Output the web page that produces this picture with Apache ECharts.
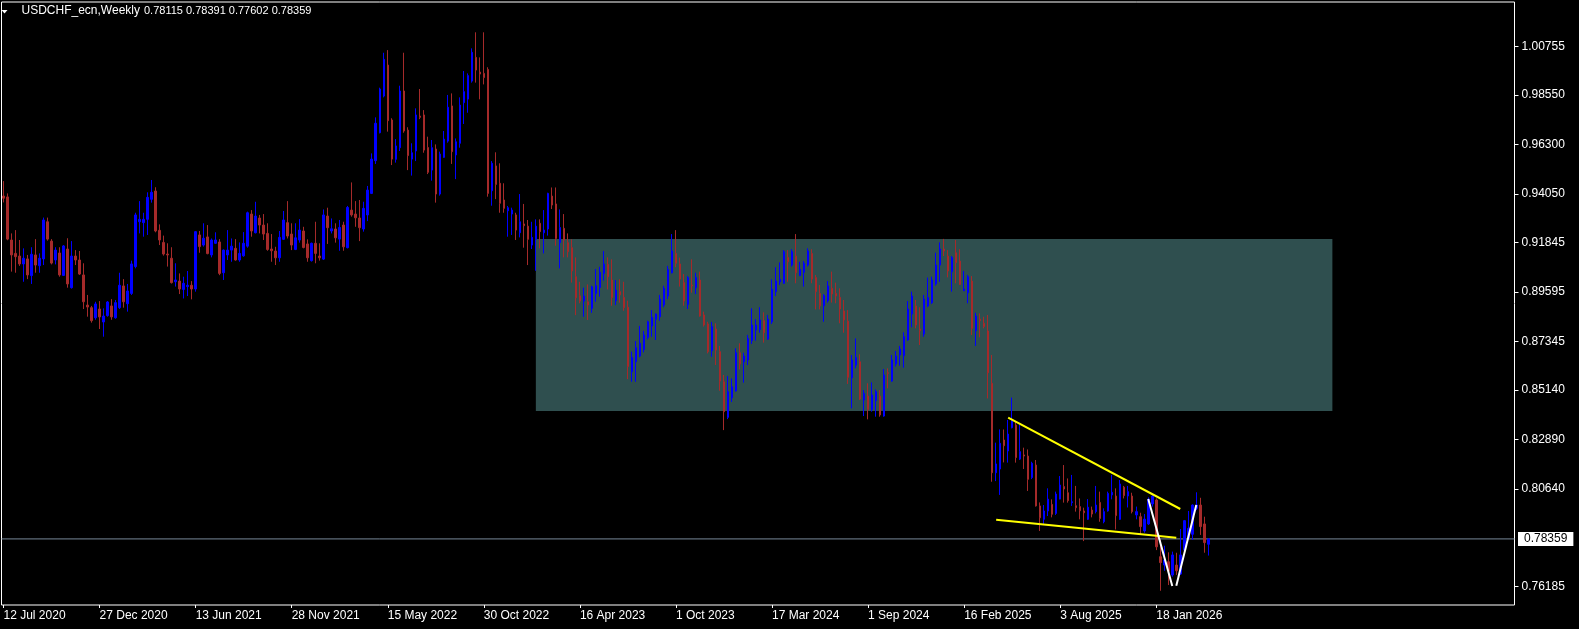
<!DOCTYPE html>
<html>
<head>
<meta charset="utf-8">
<script src="https://cdn.jsdelivr.net/npm/echarts@6/dist/echarts.min.js"></script>
<style>
html,body{margin:0;padding:0;background:#000;}
#chart{width:1579px;height:629px;}
</style>
</head>
<body>
<div id="chart"></div>
<script>
// ---- DATA (weekly bars: [open, high, low, close]) ----
const symbolName = 'USDCHF_ecn';
const periodName = 'Weekly';

const bars2020 = [
[0.9396,0.9464,0.9367,0.9386],[0.9392,0.9408,0.9195,0.9200],[0.9196,0.9226,0.9052,0.9128],[0.9135,0.9241,0.9047,0.9120],
[0.9123,0.9196,0.9078,0.9087],[0.9087,0.9158,0.9006,0.9113],[0.9110,0.9128,0.9018,0.9037],[0.9034,0.9163,0.8996,0.9131],
[0.9128,0.9200,0.9047,0.9082],[0.9079,0.9135,0.9047,0.9113],[0.9110,0.9298,0.9082,0.9287],[0.9279,0.9298,0.9193,0.9200],
[0.9191,0.9200,0.9085,0.9091],[0.9105,0.9163,0.9085,0.9150],[0.9137,0.9163,0.9029,0.9037],[0.9035,0.9173,0.9032,0.9169],
[0.9155,0.9204,0.8979,0.8996],[0.8979,0.9191,0.8975,0.9123],[0.9123,0.9150,0.9082,0.9105],[0.9105,0.9146,0.9037,0.9041],
[0.9037,0.9090,0.8882,0.8915],[0.8900,0.8946,0.8847,0.8891],[0.8888,0.8896,0.8820,0.8829],[0.8842,0.8915,0.8833,0.8905],
[0.8882,0.8918,0.8791,0.8846]
];
const bars2021 = [
[0.8823,0.8885,0.8756,0.8850],[0.8852,0.8918,0.8847,0.8914],[0.8896,0.8927,0.8833,0.8846],[0.8842,0.8923,0.8838,0.8911],
[0.8888,0.9047,0.8882,0.8990],[0.8987,0.9018,0.8888,0.8915],[0.8906,0.8996,0.8870,0.8964],[0.8953,0.9102,0.8946,0.9087],
[0.9075,0.9320,0.9067,0.9310],[0.9279,0.9373,0.9226,0.9290],[0.9275,0.9320,0.9211,0.9290],[0.9290,0.9413,0.9219,0.9390],
[0.9381,0.9469,0.9366,0.9413],[0.9419,0.9436,0.9231,0.9237],[0.9240,0.9267,0.9173,0.9196],[0.9185,0.9216,0.9125,0.9132],
[0.9132,0.9181,0.9075,0.9128],[0.9113,0.9163,0.8998,0.9002],[0.9006,0.9090,0.8984,0.9014],[0.9009,0.9044,0.8950,0.8973],
[0.8971,0.9029,0.8930,0.8999],[0.8984,0.9055,0.8941,0.8990],[0.8990,0.9009,0.8926,0.8973],[0.8973,0.9237,0.8961,0.9234],
[0.9219,0.9237,0.9138,0.9166],[0.9173,0.9272,0.9166,0.9204],[0.9210,0.9264,0.9131,0.9134],[0.9128,0.9203,0.9117,0.9196],
[0.9181,0.9231,0.9178,0.9196],[0.9187,0.9200,0.9036,0.9044],[0.9047,0.9153,0.9014,0.9150],[0.9128,0.9241,0.9105,0.9150],
[0.9150,0.9203,0.9097,0.9168],[0.9158,0.9200,0.9102,0.9105],[0.9105,0.9185,0.9097,0.9135],[0.9124,0.9232,0.9120,0.9181],
[0.9168,0.9325,0.9161,0.9320],[0.9314,0.9332,0.9211,0.9237],[0.9229,0.9370,0.9226,0.9305],[0.9296,0.9310,0.9226,0.9264],
[0.9264,0.9314,0.9196,0.9223],[0.9226,0.9272,0.9147,0.9153],[0.9155,0.9223,0.9097,0.9147],[0.9146,0.9165,0.9082,0.9115],
[0.9115,0.9237,0.9097,0.9208],[0.9199,0.9328,0.9196,0.9287],[0.9275,0.9373,0.9203,0.9214],[0.9223,0.9272,0.9150,0.9173],
[0.9153,0.9272,0.9150,0.9206],[0.9196,0.9291,0.9184,0.9241],[0.9237,0.9256,0.9158,0.9162],[0.9178,0.9199,0.9097,0.9115]
];
const bars2022 = [
[0.9102,0.9184,0.9098,0.9181],[0.9181,0.9279,0.9090,0.9135],[0.9123,0.9181,0.9102,0.9115],[0.9109,0.9335,0.9105,0.9310],
[0.9305,0.9343,0.9178,0.9252],[0.9237,0.9294,0.9226,0.9247],[0.9246,0.9272,0.9184,0.9206],[0.9200,0.9287,0.9147,0.9253],
[0.9264,0.9279,0.9147,0.9165],[0.9161,0.9351,0.9158,0.9344],[0.9332,0.9458,0.9302,0.9310],[0.9314,0.9373,0.9256,0.9297],
[0.9296,0.9378,0.9191,0.9252],[0.9246,0.9370,0.9234,0.9340],[0.9310,0.9442,0.9282,0.9423],[0.9408,0.9590,0.9405,0.9564],
[0.9557,0.9754,0.9542,0.9727],[0.9684,0.9889,0.9681,0.9883],[0.9851,1.0048,0.9845,1.0018],[0.9992,1.0060,0.9689,0.9739],
[0.9742,0.9750,0.9537,0.9564],[0.9563,0.9655,0.9548,0.9624],[0.9616,0.9898,0.9601,0.9874],[0.9874,1.0048,0.9684,0.9692],
[0.9696,0.9709,0.9514,0.9580],[0.9564,0.9636,0.9489,0.9593],[0.9601,0.9795,0.9555,0.9765],[0.9760,0.9883,0.9746,0.9754],
[0.9765,0.9787,0.9593,0.9605],[0.9617,0.9666,0.9496,0.9504],[0.9514,0.9651,0.9466,0.9616],[0.9610,0.9631,0.9366,0.9405],
[0.9405,0.9598,0.9398,0.9587],[0.9572,0.9692,0.9570,0.9655],[0.9646,0.9856,0.9639,0.9800],[0.9806,0.9863,0.9542,0.9598],
[0.9583,0.9658,0.9473,0.9643],[0.9636,0.9845,0.9616,0.9810],[0.9821,0.9965,0.9724,0.9871],[0.9837,0.9954,0.9775,0.9944],
[0.9919,1.0068,0.9912,1.0050],[1.0027,1.0141,0.9912,0.9969],[0.9960,1.0027,0.9836,0.9951],[0.9954,1.0141,0.9904,0.9935],
[0.9972,0.9982,0.9393,0.9408],[0.9420,0.9555,0.9352,0.9545],[0.9533,0.9595,0.9382,0.9449],[0.9454,0.9545,0.9320,0.9363],
[0.9378,0.9454,0.9320,0.9340],[0.9329,0.9351,0.9211,0.9343],[0.9314,0.9343,0.9219,0.9332],[0.9310,0.9320,0.9196,0.9241]
];
const bars2023 = [
[0.9229,0.9405,0.9208,0.9279],[0.9269,0.9360,0.9161,0.9261],[0.9259,0.9287,0.9082,0.9199],[0.9173,0.9279,0.9155,0.9208],
[0.9199,0.9290,0.9056,0.9259],[0.9272,0.9290,0.9158,0.9234],[0.9229,0.9332,0.9135,0.9241],[0.9246,0.9411,0.9216,0.9408],
[0.9396,0.9435,0.9337,0.9355],[0.9360,0.9435,0.9170,0.9203],[0.9184,0.9335,0.9067,0.9253],[0.9249,0.9314,0.9117,0.9196],
[0.9184,0.9226,0.9117,0.9143],[0.9161,0.9199,0.9002,0.9055],[0.9029,0.9117,0.8854,0.8933],[0.8942,0.9006,0.8908,0.8918],
[0.8918,0.8979,0.8847,0.8941],[0.8915,0.8994,0.8832,0.8900],[0.8885,0.8988,0.8865,0.8983],[0.8953,0.9064,0.8915,0.8988],
[0.8980,0.9074,0.8938,0.9049],[0.9044,0.9146,0.9011,0.9087],[0.9085,0.9117,0.8971,0.9029],[0.9014,0.9108,0.8897,0.8934],
[0.8920,0.9014,0.8900,0.8968],[0.8961,0.9017,0.8911,0.8946],[0.8935,0.9006,0.8874,0.8888],[0.8890,0.8920,0.8563,0.8620],
[0.8597,0.8688,0.8551,0.8661],[0.8642,0.8736,0.8551,0.8706],[0.8668,0.8805,0.8662,0.8726],[0.8698,0.8782,0.8685,0.8764],
[0.8753,0.8829,0.8744,0.8824],[0.8805,0.8877,0.8756,0.8844],[0.8835,0.8862,0.8741,0.8859],[0.8847,0.8946,0.8829,0.8927],
[0.8900,0.8988,0.8890,0.8976],[0.8941,0.9078,0.8927,0.9062],[0.9047,0.9223,0.9044,0.9146],[0.9135,0.9241,0.9072,0.9090],
[0.9087,0.9116,0.8984,0.9018],[0.9002,0.9041,0.8897,0.8918],[0.8903,0.9032,0.8882,0.9025],[0.8991,0.9108,0.8956,0.8987],
[0.8979,0.9047,0.8950,0.9025],[0.9014,0.9052,0.8847,0.8850],[0.8855,0.8870,0.8802,0.8809],[0.8814,0.8824,0.8680,0.8688],
[0.8692,0.8823,0.8665,0.8802],[0.8791,0.8817,0.8627,0.8695],[0.8688,0.8714,0.8510,0.8554],[0.8551,0.8582,0.8331,0.8415],
[0.8389,0.8577,0.8381,0.8506]
];
const bars2024 = [
[0.8478,0.8566,0.8459,0.8528],[0.8509,0.8703,0.8506,0.8683],[0.8683,0.8726,0.8607,0.8632],[0.8642,0.8683,0.8547,0.8668],
[0.8650,0.8764,0.8627,0.8748],[0.8738,0.8885,0.8723,0.8809],[0.8786,0.8836,0.8738,0.8809],[0.8789,0.8890,0.8774,0.8832],
[0.8829,0.8867,0.8729,0.8774],[0.8745,0.8855,0.8741,0.8836],[0.8824,0.9017,0.8814,0.8971],[0.8961,0.9072,0.8941,0.9009],
[0.9006,0.9094,0.8991,0.9017],[0.8999,0.9150,0.8996,0.9143],[0.9116,0.9150,0.9006,0.9097],[0.9082,0.9154,0.9075,0.9143],
[0.9123,0.9223,0.8999,0.9047],[0.9034,0.9097,0.9032,0.9062],[0.9049,0.9100,0.8984,0.9090],[0.9082,0.9158,0.9075,0.9146],
[0.9135,0.9154,0.8999,0.9018],[0.9025,0.9037,0.8880,0.8961],[0.8953,0.8991,0.8880,0.8896],[0.8897,0.8950,0.8824,0.8943],
[0.8920,0.9009,0.8911,0.8987],[0.8976,0.9052,0.8911,0.8950],[0.8953,0.9002,0.8908,0.8941],[0.8935,0.8976,0.8817,0.8882],
[0.8873,0.8923,0.8774,0.8832],[0.8827,0.8877,0.8541,0.8571],[0.8569,0.8673,0.8430,0.8650],[0.8627,0.8748,0.8612,0.8661],
[0.8642,0.8676,0.8468,0.8472],[0.8468,0.8513,0.8395,0.8498],[0.8486,0.8544,0.8380,0.8425],[0.8425,0.8548,0.8415,0.8491],
[0.8465,0.8516,0.8392,0.8506],[0.8486,0.8513,0.8392,0.8400],[0.8395,0.8609,0.8392,0.8582],[0.8592,0.8612,0.8521,0.8589],
[0.8554,0.8673,0.8551,0.8650],[0.8632,0.8691,0.8620,0.8668],[0.8673,0.8714,0.8624,0.8700],[0.8670,0.8776,0.8615,0.8756],
[0.8741,0.8918,0.8738,0.8882],[0.8859,0.8961,0.8799,0.8941],[0.8896,0.8923,0.8794,0.8809],[0.8791,0.8890,0.8718,0.8783],
[0.8768,0.8946,0.8756,0.8927],[0.8896,0.9025,0.8890,0.8934],[0.8911,0.9029,0.8905,0.9014],[0.8996,0.9138,0.8988,0.9082]
];
const bars2025 = [
[0.9082,0.9185,0.9006,0.9155],[0.9155,0.9201,0.9123,0.9146],[0.9123,0.9150,0.9026,0.9055],[0.9052,0.9123,0.8961,0.9116],
[0.9138,0.9196,0.8999,0.9093],[0.9100,0.9154,0.8991,0.8994],[0.8965,0.9055,0.8964,0.8973],[0.8956,0.9037,0.8908,0.9029],
[0.9009,0.9032,0.8764,0.8794],[0.8783,0.8865,0.8714,0.8850],[0.8836,0.8862,0.8753,0.8829],[0.8817,0.8847,0.8794,0.8802],
[0.8782,0.8855,0.8475,0.8592],[0.8544,0.8673,0.8096,0.8137],[0.8137,0.8274,0.8099,0.8177],[0.8154,0.8334,0.8036,0.8271],
[0.8286,0.8334,0.8184,0.8260],[0.8236,0.8377,0.8183,0.8313],[0.8342,0.8479,0.8339,0.8372],[0.8354,0.8369,0.8183,0.8206],
[0.8199,0.8357,0.8195,0.8233],[0.8218,0.8251,0.8154,0.8213],[0.8213,0.8243,0.8054,0.8107],[0.8115,0.8187,0.8108,0.8180],
[0.8172,0.8195,0.7983,0.7986],[0.7986,0.8002,0.7872,0.7932],[0.7925,0.7990,0.7904,0.7963],[0.7963,0.8066,0.7940,0.8017],
[0.7993,0.8016,0.7934,0.7948],[0.7952,0.8051,0.7945,0.8040],[0.8017,0.8122,0.8016,0.8081],[0.8074,0.8172,0.8001,0.8063],
[0.8046,0.8111,0.8001,0.8010],[0.8001,0.8127,0.7986,0.8005],[0.7987,0.8077,0.7960,0.7978],[0.7983,0.8020,0.7925,0.7964],
[0.7963,0.7978,0.7826,0.7955],[0.7925,0.8017,0.7922,0.7980],[0.7967,0.7983,0.7934,0.7949],[0.7960,0.8077,0.7952,0.7990],
[0.8002,0.8051,0.7914,0.7929],[0.7914,0.7975,0.7907,0.7960],[0.7963,0.8051,0.7960,0.8043],[0.8036,0.8127,0.8016,0.8048],
[0.8031,0.8066,0.7879,0.7942],[0.7925,0.8104,0.7922,0.8086],[0.8071,0.8077,0.8020,0.8033],[0.8031,0.8077,0.7979,0.8051],
[0.8031,0.8046,0.7952,0.7960],[0.7945,0.7983,0.7925,0.7960],[0.7937,0.7955,0.7858,0.7892],[0.7872,0.7949,0.7864,0.7926]
];
const bars2026 = [
[0.7904,0.8025,0.7899,0.8016],[0.7995,0.8039,0.7983,0.8031],[0.8013,0.8020,0.7785,0.7800],[0.7755,0.7831,0.7600,0.7728],
[0.7717,0.7805,0.7691,0.7740],[0.7732,0.7775,0.7626,0.7690],[0.7672,0.7778,0.7664,0.7763],[0.7717,0.7773,0.7672,0.7691],
[0.7676,0.7881,0.7672,0.7763],[0.7785,0.7922,0.7781,0.7919],[0.7838,0.7963,0.7831,0.7884],[0.7857,0.7993,0.7831,0.7990],
[0.7975,0.8048,0.7967,0.7990],[0.7990,0.8023,0.7854,0.7892],[0.7904,0.7937,0.7773,0.7819],[0.78115,0.78391,0.77602,0.78359]
];

// time-axis labels, one every 24 weeks starting at the first bar
const tickLabels = ['12 Jul 2020','27 Dec 2020','13 Jun 2021','28 Nov 2021','15 May 2022','30 Oct 2022',
  '16 Apr 2023','1 Oct 2023','17 Mar 2024','1 Sep 2024','16 Feb 2025','3 Aug 2025','18 Jan 2026'];
const tickEvery = 24;
// price-axis labels
const priceTicks = [1.00755,0.98550,0.96300,0.94050,0.91845,0.89595,0.87345,0.85140,0.82890,0.80640,0.76185];

// drawn objects: [barIndex, price]
const zoneBox = [133, 0.92006, 332, 0.84179];
const upperTrend = [[251, 0.83874], [294, 0.79720]];
const lowerTrend = [[248, 0.79234], [293, 0.78414]];
const vLeft = [[286, 0.80175], [292, 0.76220]];
const vRight = [[293, 0.76230], [298, 0.79902]];

// ---- CHART ----
const bars = [...bars2020, ...bars2021, ...bars2022, ...bars2023, ...bars2024, ...bars2025, ...bars2026];
const slotCount = 378;
const slots = Array.from({length: slotCount}, (_, i) => String(i));
const candleData = bars.map(b => [b[0], b[3], b[2], b[1]]);
const last = bars[bars.length - 1];
const lastPrice = last[3];
const FONT = "'Liberation Sans', Arial, sans-serif";
const BULL = '#0000FF', BEAR = '#A52A2A';

const showTick = (idx) => idx % tickEvery === 0 && idx / tickEvery < tickLabels.length;

const chart = echarts.init(document.getElementById('chart'), null, {renderer: 'canvas'});
chart.setOption({
  backgroundColor: '#000000',
  animation: false,
  grid: {left: 1.5, right: 64.5, top: 2, bottom: 24, show: true, borderColor: '#ffffff', borderWidth: 1, backgroundColor: 'transparent'},
  xAxis: [{
    type: 'category', data: slots, boundaryGap: true,
    axisLine: {show: false, onZero: false},
    axisTick: {show: true, interval: showTick, alignWithLabel: true, length: 3, lineStyle: {color: '#ffffff'}},
    axisLabel: {interval: showTick, formatter: (v, idx) => tickLabels[idx / tickEvery] || '', align: 'left',
      color: '#ffffff', fontSize: 12, fontFamily: FONT, margin: 5},
    splitLine: {show: false}
  }, {
    type: 'value', min: -0.5, max: slotCount - 0.5, show: false,
    axisLine: {onZero: false}
  }],
  yAxis: {
    type: 'value', position: 'right', min: 0.75352, max: 1.02789,
    axisLine: {show: false, onZero: false}, splitLine: {show: false},
    axisTick: {show: true, customValues: priceTicks, length: 4, lineStyle: {color: '#ffffff'}},
    axisLabel: {customValues: priceTicks, formatter: v => v.toFixed(5), color: '#ffffff', fontSize: 12, fontFamily: FONT, margin: 7}
  },
  graphic: [
    {type: 'polygon', shape: {points: [[1.5, 10], [7.5, 10], [4.5, 13.5]]}, style: {fill: '#ffffff'}, z: 10},
    {type: 'text', x: 21.5, y: 5, style: {
      text: symbolName + ',' + periodName,
      fill: '#ffffff', font: '12px ' + FONT, textVerticalAlign: 'top'}, z: 10},
    {type: 'text', x: 144, y: 5.5, style: {
      text: last.map(v => v.toFixed(5)).join(' '),
      fill: '#ffffff', font: '11px ' + FONT, textVerticalAlign: 'top'}, z: 10}
  ],
  series: [
    {
      type: 'custom', name: 'zone', xAxisIndex: 1, yAxisIndex: 0, z: 1, silent: true,
      data: [zoneBox],
      renderItem: (params, api) => {
        const p1 = api.coord([api.value(0), api.value(1)]);
        const p2 = api.coord([api.value(2), api.value(3)]);
        return {type: 'rect', shape: {x: p1[0], y: p1[1], width: p2[0] - p1[0], height: p2[1] - p1[1]},
          style: {fill: '#2F4F4F'}};
      }
    },
    {
      type: 'line', name: 'bid', xAxisIndex: 1, yAxisIndex: 0, z: 2, silent: true, symbol: 'none',
      data: [[-0.5, lastPrice], [slotCount - 0.5, lastPrice]],
      lineStyle: {color: '#778899', width: 1},
      endLabel: {show: true, distance: 3.5, formatter: () => lastPrice.toFixed(5),
        backgroundColor: '#ffffff', color: '#000000', fontSize: 12, fontFamily: FONT,
        padding: [1, 6, 1, 6], lineHeight: 12}
    },
    {
      type: 'candlestick', name: 'USDCHF', xAxisIndex: 0, yAxisIndex: 0, z: 3,
      data: candleData, barWidth: 2,
      itemStyle: {color: BULL, color0: BEAR, borderColor: BULL, borderColor0: BEAR, borderWidth: 1}
    },
    {type: 'line', xAxisIndex: 1, data: upperTrend, symbol: 'none', z: 5, silent: true, lineStyle: {color: '#FFFF00', width: 2}},
    {type: 'line', xAxisIndex: 1, data: lowerTrend, symbol: 'none', z: 5, silent: true, lineStyle: {color: '#FFFF00', width: 2}},
    {type: 'line', xAxisIndex: 1, data: vLeft, symbol: 'none', z: 5, silent: true, lineStyle: {color: '#FFFFFF', width: 2}},
    {type: 'line', xAxisIndex: 1, data: vRight, symbol: 'none', z: 5, silent: true, lineStyle: {color: '#FFFFFF', width: 2}}
  ]
});
</script>
</body>
</html>
